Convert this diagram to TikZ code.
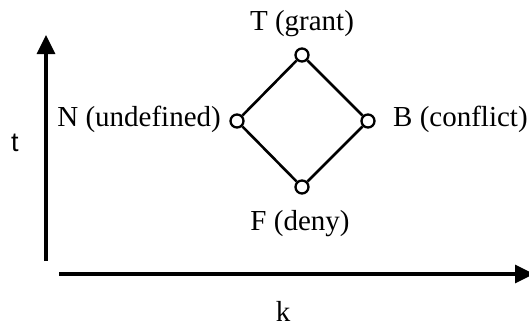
\documentclass[tikz,border=0pt]{standalone}
\usepackage{fontspec}
\setmainfont{Liberation Serif}
\newfontfamily\axisfont{Liberation Sans}
\usetikzlibrary{arrows.meta}
\begin{document}
\begin{tikzpicture}[x=1pt,y=-1pt,
  lbl/.style={inner sep=0pt,font=\fontsize{29}{32}\selectfont},
  vtx/.style={circle,draw,line width=2.3pt,minimum size=13pt,inner sep=0pt,fill=white},
  edge/.style={line width=2.6pt},
  axis/.style={line width=3.2pt,-{Triangle[length=19pt,width=18pt]}}]
\useasboundingbox (0,0) rectangle (529,327);
% diamond vertices
\node[vtx] (T) at (302,55) {};
\node[vtx] (N) at (237,121) {};
\node[vtx] (B) at (368,121) {};
\node[vtx] (F) at (302,187) {};
\draw[edge] (T) -- (N);
\draw[edge] (T) -- (B);
\draw[edge] (F) -- (N);
\draw[edge] (F) -- (B);
% labels
\node[lbl] (Tl) at (302,24) {T (grant)};
\node[lbl,anchor=east] (Nl) at (221,119) {N (undefined)};
\node[lbl,anchor=west] (Bl) at (393,119) {B (conflict)};
\node[lbl] (Fl) at (300,224) {F (deny)};
% axes
\coordinate (ybot) at (46,261);
\coordinate (ytop) at (46,35);
\coordinate (xl) at (59,274);
\coordinate (xr) at (534,274);
\draw[axis] (ybot) -- (ytop);
\draw[axis] (xl) -- (xr);
\node[inner sep=0pt,font=\axisfont\fontsize{27}{30}\selectfont] (tl) at (15,143) {t};
\node[inner sep=0pt,font=\fontsize{29}{32}\selectfont] (kl) at (283,311) {k};
\end{tikzpicture}
\end{document}
